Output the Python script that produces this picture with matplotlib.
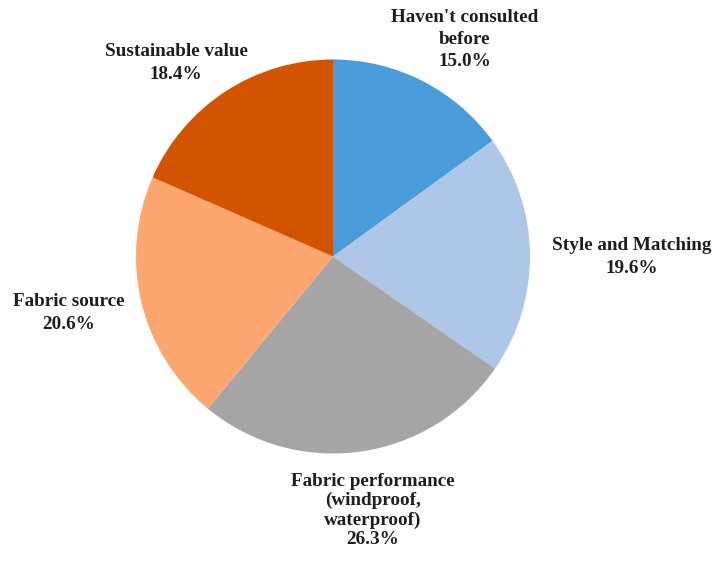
import matplotlib
matplotlib.use("Agg")
import matplotlib.pyplot as plt

plt.rcParams['font.family'] = ['Liberation Serif', 'DejaVu Serif']

categories = ["Haven't consulted\nbefore", "Style and Matching",
              "Fabric performance\n(windproof,\nwaterproof)", "Fabric source",
              "Sustainable value"]
values = [15.0, 19.6, 26.3, 20.6, 18.4]
colors = ["#4A9CDB", "#AEC6E8", "#A5A5A5", "#FDA66F", "#D35400"]

# label centre positions (data units, pie radius = 1)
label_pos = [(0.670, 1.102), (1.518, -0.003), (0.203, -1.289),
             (-1.340, -0.287), (-0.797, 0.982)]
label_spacing = [1.4, 1.4, 1.18, 1.4, 1.4]

W, H = 714, 561
cx, cy, r = 333, 256.5, 197

fig = plt.figure(figsize=(W / 100, H / 100), dpi=100)
ax = fig.add_axes([0, 0, 1, 1])
ax.pie(values, colors=colors, startangle=90, counterclock=False, radius=1,
       wedgeprops=dict(linewidth=0))
ax.set_xlim(-cx / r, (W - cx) / r)
ax.set_ylim(-(H - cy) / r, cy / r)
ax.set_aspect('auto')
ax.axis('off')

for cat, val, (x, y), ls in zip(categories, values, label_pos, label_spacing):
    ax.text(x, y, f"{cat}\n{val:.1f}%", ha='center', va='center',
            multialignment='center', fontsize=13.8, fontweight='bold',
            color='#1e1e1e', linespacing=ls)

fig.savefig("out.png", dpi=100)
